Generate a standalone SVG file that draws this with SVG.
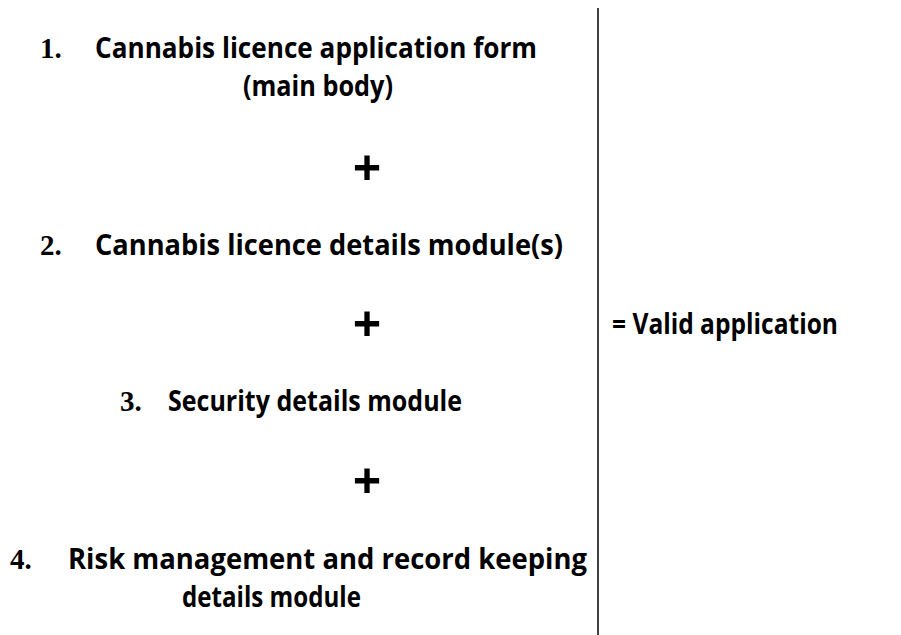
<svg xmlns="http://www.w3.org/2000/svg" width="901" height="635" viewBox="0 0 901 635">
<style>
.t{font-family:"Open Sans","Noto Sans","DejaVu Sans",sans-serif;font-weight:bold;font-size:29px;fill:#000}
.n{font-family:"Liberation Serif","Times New Roman",serif;font-weight:bold;font-size:29px;fill:#000}
.p{font-family:"Open Sans","Noto Sans",sans-serif;font-weight:bold;font-size:50px;fill:#000;text-anchor:middle}
</style>
<rect width="901" height="635" fill="#fff"/>
<g id="connectors">
<line x1="598" y1="8" x2="598" y2="635" stroke="#000" stroke-width="1.5"/>
</g>
<g id="item1">
<text class="n" x="40" y="58">1.</text>
<text class="t" x="95" y="58" textLength="442" lengthAdjust="spacingAndGlyphs">Cannabis licence application form</text>
<text class="t" x="243" y="96" textLength="150" lengthAdjust="spacingAndGlyphs">(main body)</text>
</g>
<g id="plus1"><text class="p" x="367" y="186">+</text></g>
<g id="item2">
<text class="n" x="40" y="255">2.</text>
<text class="t" x="95" y="255" textLength="468" lengthAdjust="spacingAndGlyphs">Cannabis licence details module(s)</text>
</g>
<g id="plus2"><text class="p" x="367" y="342">+</text></g>
<g id="result">
<text class="t" x="612" y="334" textLength="226" lengthAdjust="spacingAndGlyphs">= Valid application</text>
</g>
<g id="item3">
<text class="n" x="120" y="411">3.</text>
<text class="t" x="168" y="411" textLength="294" lengthAdjust="spacingAndGlyphs">Security details module</text>
</g>
<g id="plus3"><text class="p" x="367" y="499">+</text></g>
<g id="item4">
<text class="n" x="10" y="569">4.</text>
<text class="t" x="68" y="569" textLength="519" lengthAdjust="spacingAndGlyphs">Risk management and record keeping</text>
<text class="t" x="182" y="607" textLength="179" lengthAdjust="spacingAndGlyphs">details module</text>
</g>
</svg>
